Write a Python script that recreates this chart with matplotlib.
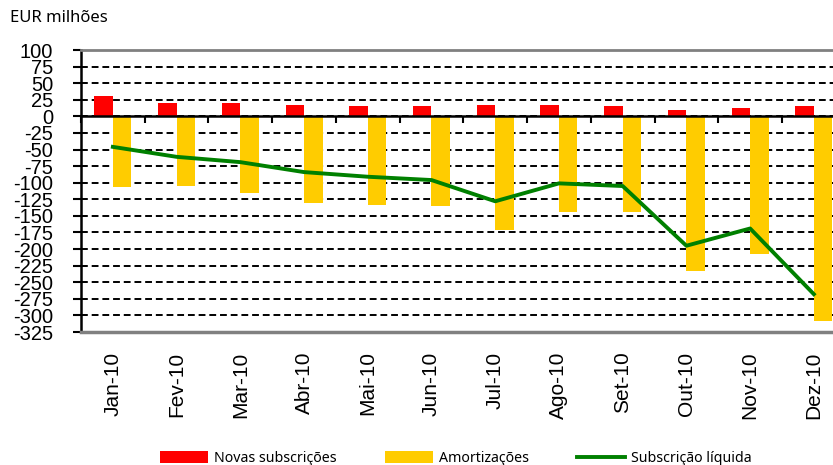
import matplotlib
matplotlib.use("Agg")
import matplotlib.pyplot as plt
import numpy as np

plt.rcParams['axes.unicode_minus'] = False

categories = ["Jan-10", "Fev-10", "Mar-10", "Abr-10", "Mai-10", "Jun-10",
              "Jul-10", "Ago-10", "Set-10", "Out-10", "Nov-10", "Dez-10"]
novas = [31, 20, 20, 17, 15, 15, 17, 17, 15, 9, 12, 15]
amort = [-107, -105, -116, -130, -133, -135, -172, -144, -144, -233, -208, -308]
liquida = [-46, -61, -69, -84, -91, -96, -128, -101, -105, -195, -169, -268]
yticks = list(range(100, -326, -25))

fig = plt.figure(figsize=(8.33, 4.65), dpi=100)
ax = fig.add_axes([81/833, 1-332/465, (845.7-81)/833, (332-50)/465])

x = np.arange(len(categories))
w = 0.29
b1 = ax.bar(x - w/2, novas, width=w, color="#FF0000", zorder=3, label="Novas subscrições")
b2 = ax.bar(x + w/2, amort, width=w, color="#FFCC00", zorder=3, label="Amortizações")
l1, = ax.plot(x, liquida, color="#008000", lw=2.8, zorder=4, label="Subscrição líquida")

ax.set_xlim(-0.5, 11.5)
ax.set_ylim(-325, 100)
ax.set_yticks(yticks)
ax.set_yticklabels([str(v) for v in yticks], fontfamily="Liberation Sans", fontsize=14.5)
ax.yaxis.grid(True, linestyle=(0, (3.5, 2)), color="black", lw=1.4, zorder=1)
ax.set_axisbelow(True)
ax.tick_params(axis='y', direction='out', length=6, width=1.5, pad=14)

# zero axis
ax.spines['bottom'].set_position(('data', 0))
ax.spines['bottom'].set_color('black')
ax.spines['bottom'].set_linewidth(1.8)
ax.spines['bottom'].set_zorder(5)
ax.set_xticks(x)
ax.set_xticklabels([])
ax.tick_params(axis='x', which='major', length=0)
ax.set_xticks(np.arange(-0.5, 12, 1), minor=True)
ax.tick_params(axis='x', which='minor', direction='out', length=5, width=1.5, color='black')
ax.spines['left'].set_color('black')
ax.spines['left'].set_linewidth(1.8)
ax.spines['top'].set_color('#808080')
ax.spines['top'].set_linewidth(2)
ax.spines['right'].set_visible(False)
ax.axhline(-325, color='#808080', lw=2.5, zorder=5, clip_on=False)

sec = ax.secondary_xaxis(0)
sec.set_xticks(x)
sec.set_xticklabels(categories, rotation=90, fontfamily="Liberation Sans", fontsize=15)
sec.tick_params(length=0, pad=14)
sec.spines['bottom'].set_visible(False)

fig.text(10/833, 1-18/465, "EUR milhões", fontfamily="Noto Sans", fontsize=12,
         va='center', ha='left')

leg = fig.legend([b1, b2, l1], ["Novas subscrições", "Amortizações", "Subscrição líquida"],
                 loc='center', bbox_to_anchor=(0.547, 0.014), ncol=3,
                 frameon=False, prop={'family': 'Noto Sans', 'size': 10.2},
                 handlelength=3.4, handleheight=0.9, handletextpad=0.4, columnspacing=3.4)

fig.savefig("out.png", dpi=100)
